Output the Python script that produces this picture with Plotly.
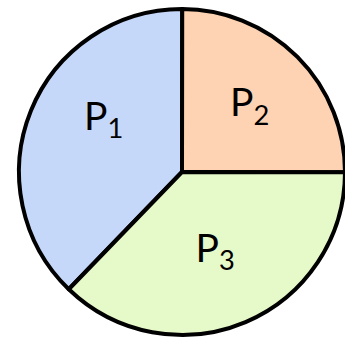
import plotly.graph_objects as go

labels = ["P<sub>1</sub>", "P<sub>2</sub>", "P<sub>3</sub>"]
values = [37.8, 25.0, 37.2]
colors = ["#c6d8fa", "#fdd3b3", "#e6f9c8"]

W, H = 345, 344
CX, CY, R = 182, 172, 163

# an empty line under P1 lifts its visible label, as in the reference
templates = ["%{label}<br>&nbsp;", "%{label}", "%{label}"]

fig = go.Figure(
    go.Pie(
        labels=labels,
        values=values,
        sort=False,
        direction="clockwise",
        rotation=224,
        marker=dict(colors=colors, line=dict(color="black", width=4)),
        texttemplate=templates,
        textposition="inside",
        insidetextorientation="horizontal",
        textfont=dict(family="Lato, Open Sans, sans-serif", size=39, color="black"),
        hoverinfo="skip",
        showlegend=False,
        domain=dict(
            x=[(CX - R) / W, min(1.0, (CX + R) / W)],
            y=[(H - (CY + R)) / H, (H - (CY - R)) / H],
        ),
    )
)

fig.update_layout(
    width=W,
    height=H,
    margin=dict(l=0, r=0, t=0, b=0),
    paper_bgcolor="white",
    plot_bgcolor="white",
    showlegend=False,
    uniformtext=dict(minsize=39, mode="show"),
)

fig.write_html(
    "out.html",
    config={"displayModeBar": False},
    post_script="document.body.style.margin='0';document.body.style.overflow='hidden';",
)
